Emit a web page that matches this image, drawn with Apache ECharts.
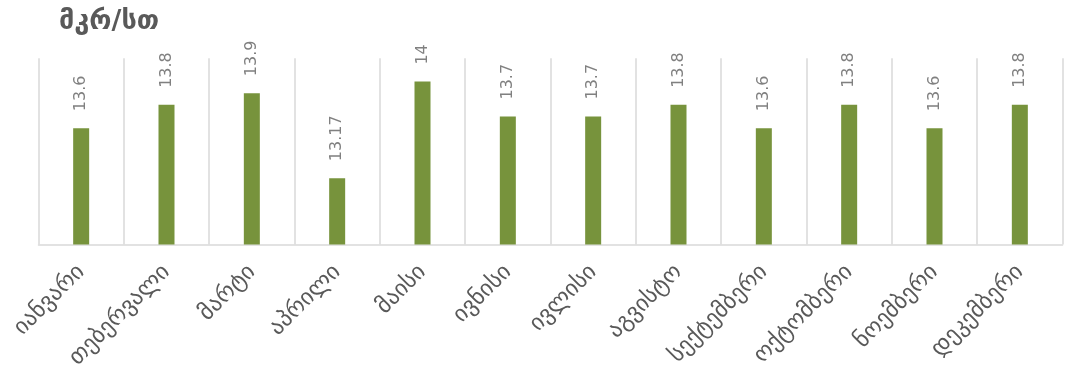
<!DOCTYPE html>
<html>
<head>
<meta charset="utf-8">
<script src="https://cdn.jsdelivr.net/npm/echarts@6/dist/echarts.min.js"></script>
<style>html,body{margin:0;padding:0;background:#fff}#c{width:1067px;height:383px}</style>
</head>
<body>
<div id="c"></div>
<script>
const titleText = 'მკრ/სთ';
const categories = ['იანვარი','თებერვალი','მარტი','აპრილი','მაისი','ივნისი','ივლისი','აგვისტო','სექტემბერი','ოქტომბერი','ნოემბერი','დეკემბერი'];
const values = [13.6, 13.8, 13.9, 13.17, 14, 13.7, 13.7, 13.8, 13.6, 13.8, 13.6, 13.8];

const font = '"DejaVu Sans", "Noto Sans", sans-serif';
const chart = echarts.init(document.getElementById('c'), null, {renderer: 'canvas'});
chart.setOption({
  animation: false,
  backgroundColor: '#ffffff',
  title: {
    text: titleText, left: 54, top: 3,
    textStyle: {fontFamily: font, fontSize: 27, fontWeight: 'bold', color: '#595959'}
  },
  grid: {left: 38.5, right: 4.5, top: 58.3, bottom: 138.5, containLabel: false},
  xAxis: {
    type: 'category', data: categories, boundaryGap: true,
    axisLine: {show: true, lineStyle: {color: '#d9d9d9', width: 1.5}},
    axisTick: {show: false},
    splitLine: {show: true, interval: 0, lineStyle: {color: '#d9d9d9', width: 1.5}},
    axisLabel: {interval: 0, rotate: 45, margin: 24, color: '#595959', fontSize: 23, fontFamily: font}
  },
  yAxis: {
    type: 'value', min: 12.6, max: 14.2, interval: 0.2,
    show: false, splitLine: {show: false}
  },
  series: [{
    type: 'bar', data: values, barWidth: 16,
    itemStyle: {color: '#77933C'},
    label: {
      show: true, position: 'top', rotate: 90, align: 'left', verticalAlign: 'middle',
      distance: 17, color: '#808080', fontSize: 16, fontFamily: font,
      formatter: p => String(p.value)
    }
  }]
});
</script>
</body>
</html>
